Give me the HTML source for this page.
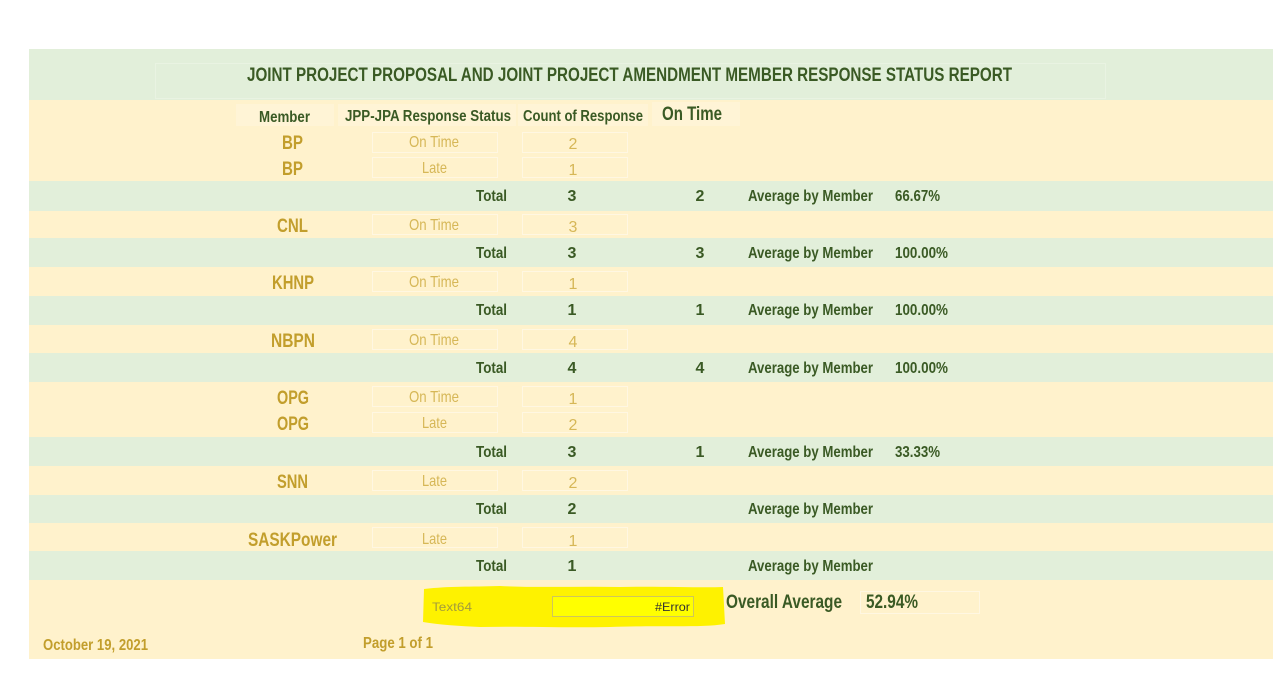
<!DOCTYPE html>
<html>
<head>
<meta charset="utf-8">
<style>
  html,body{margin:0;padding:0;background:#fff;}
  svg{display:block;}
  text{font-family:"Liberation Sans Narrow","Liberation Sans",sans-serif;}
  .t{font-weight:bold;fill:#3a5a24;}
  .m{font-weight:bold;fill:#c29e2c;font-size:19px;}
  .s{fill:#d6b757;font-size:16px;}
</style>
</head>
<body>
<svg width="1273" height="684" viewBox="0 0 1273 684" xmlns="http://www.w3.org/2000/svg">
  <rect x="0" y="0" width="1273" height="684" fill="#ffffff"/>
  <rect x="29" y="49" width="1244" height="610" fill="#FFF2CC"/>
  <g fill="#E2EFDA">
    <rect x="29" y="49" width="1244" height="51"/>
    <rect x="29" y="181" width="1244" height="30"/>
    <rect x="29" y="238" width="1244" height="29"/>
    <rect x="29" y="296" width="1244" height="29"/>
    <rect x="29" y="353" width="1244" height="29"/>
    <rect x="29" y="437" width="1244" height="29"/>
    <rect x="29" y="495" width="1244" height="28"/>
    <rect x="29" y="551" width="1244" height="29"/>
  </g>
  <rect x="155.5" y="63.5" width="950" height="35" fill="none" stroke="#e9f3e2" stroke-width="1"/>
  <text class="t" x="247" y="81" font-size="19" textLength="765" lengthAdjust="spacingAndGlyphs">JOINT PROJECT PROPOSAL AND JOINT PROJECT AMENDMENT MEMBER RESPONSE STATUS REPORT</text>

  <g fill="#fff4d6">
    <rect x="236" y="104" width="98" height="22"/>
    <rect x="338" y="104" width="178" height="22"/>
    <rect x="518" y="104" width="130" height="22"/>
    <rect x="652" y="102" width="88" height="24"/>
  </g>
  <text class="t" x="259" y="122" font-size="16" textLength="51" lengthAdjust="spacingAndGlyphs">Member</text>
  <text class="t" x="345" y="121" font-size="16" textLength="166" lengthAdjust="spacingAndGlyphs">JPP-JPA Response Status</text>
  <text class="t" x="523" y="121" font-size="16" textLength="120" lengthAdjust="spacingAndGlyphs">Count of Response</text>
  <text class="t" x="662" y="120" font-size="19" textLength="60" lengthAdjust="spacingAndGlyphs">On Time</text>

  <g fill="none" stroke="#fff7e2" stroke-width="1">
    <rect x="372.5" y="132.5" width="125" height="20"/>
    <rect x="522.5" y="132.5" width="105" height="20"/>
    <rect x="372.5" y="157.5" width="125" height="20"/>
    <rect x="522.5" y="157.5" width="105" height="20"/>
    <rect x="372.5" y="214.5" width="125" height="20"/>
    <rect x="522.5" y="214.5" width="105" height="20"/>
    <rect x="372.5" y="271.5" width="125" height="20"/>
    <rect x="522.5" y="271.5" width="105" height="20"/>
    <rect x="372.5" y="329.5" width="125" height="20"/>
    <rect x="522.5" y="329.5" width="105" height="20"/>
    <rect x="372.5" y="386.5" width="125" height="20"/>
    <rect x="522.5" y="386.5" width="105" height="20"/>
    <rect x="372.5" y="412.5" width="125" height="20"/>
    <rect x="522.5" y="412.5" width="105" height="20"/>
    <rect x="372.5" y="470.5" width="125" height="20"/>
    <rect x="522.5" y="470.5" width="105" height="20"/>
    <rect x="372.5" y="527.5" width="125" height="20"/>
    <rect x="522.5" y="527.5" width="105" height="20"/>
  </g>

  <text class="m" x="282" y="149" textLength="21" lengthAdjust="spacingAndGlyphs">BP</text>
  <text class="s" x="409" y="147" textLength="50" lengthAdjust="spacingAndGlyphs">On Time</text>
  <text class="s" x="573" y="149" text-anchor="middle">2</text>

  <text class="m" x="282" y="175" textLength="21" lengthAdjust="spacingAndGlyphs">BP</text>
  <text class="s" x="422" y="173" textLength="25" lengthAdjust="spacingAndGlyphs">Late</text>
  <text class="s" x="573" y="175" text-anchor="middle">1</text>

  <text class="m" x="277" y="232" textLength="31" lengthAdjust="spacingAndGlyphs">CNL</text>
  <text class="s" x="409" y="230" textLength="50" lengthAdjust="spacingAndGlyphs">On Time</text>
  <text class="s" x="573" y="232" text-anchor="middle">3</text>

  <text class="m" x="272" y="289" textLength="42" lengthAdjust="spacingAndGlyphs">KHNP</text>
  <text class="s" x="409" y="287" textLength="50" lengthAdjust="spacingAndGlyphs">On Time</text>
  <text class="s" x="573" y="289" text-anchor="middle">1</text>

  <text class="m" x="271" y="347" textLength="44" lengthAdjust="spacingAndGlyphs">NBPN</text>
  <text class="s" x="409" y="345" textLength="50" lengthAdjust="spacingAndGlyphs">On Time</text>
  <text class="s" x="573" y="347" text-anchor="middle">4</text>

  <text class="m" x="277" y="404" textLength="32" lengthAdjust="spacingAndGlyphs">OPG</text>
  <text class="s" x="409" y="402" textLength="50" lengthAdjust="spacingAndGlyphs">On Time</text>
  <text class="s" x="573" y="404" text-anchor="middle">1</text>

  <text class="m" x="277" y="430" textLength="32" lengthAdjust="spacingAndGlyphs">OPG</text>
  <text class="s" x="422" y="428" textLength="25" lengthAdjust="spacingAndGlyphs">Late</text>
  <text class="s" x="573" y="430" text-anchor="middle">2</text>

  <text class="m" x="277" y="488" textLength="31" lengthAdjust="spacingAndGlyphs">SNN</text>
  <text class="s" x="422" y="486" textLength="25" lengthAdjust="spacingAndGlyphs">Late</text>
  <text class="s" x="573" y="488" text-anchor="middle">2</text>

  <text class="m" x="248" y="546" textLength="89" lengthAdjust="spacingAndGlyphs">SASKPower</text>
  <text class="s" x="422" y="544" textLength="25" lengthAdjust="spacingAndGlyphs">Late</text>
  <text class="s" x="573" y="546" text-anchor="middle">1</text>

  <g class="t" font-size="16">
    <text x="476" y="201" textLength="31" lengthAdjust="spacingAndGlyphs">Total</text>
    <text x="572" y="201" text-anchor="middle">3</text>
    <text x="700" y="201" text-anchor="middle">2</text>
    <text x="748" y="201" textLength="125" lengthAdjust="spacingAndGlyphs">Average by Member</text>
    <text x="895" y="201" textLength="45" lengthAdjust="spacingAndGlyphs">66.67%</text>

    <text x="476" y="258" textLength="31" lengthAdjust="spacingAndGlyphs">Total</text>
    <text x="572" y="258" text-anchor="middle">3</text>
    <text x="700" y="258" text-anchor="middle">3</text>
    <text x="748" y="258" textLength="125" lengthAdjust="spacingAndGlyphs">Average by Member</text>
    <text x="895" y="258" textLength="53" lengthAdjust="spacingAndGlyphs">100.00%</text>

    <text x="476" y="315" textLength="31" lengthAdjust="spacingAndGlyphs">Total</text>
    <text x="572" y="315" text-anchor="middle">1</text>
    <text x="700" y="315" text-anchor="middle">1</text>
    <text x="748" y="315" textLength="125" lengthAdjust="spacingAndGlyphs">Average by Member</text>
    <text x="895" y="315" textLength="53" lengthAdjust="spacingAndGlyphs">100.00%</text>

    <text x="476" y="373" textLength="31" lengthAdjust="spacingAndGlyphs">Total</text>
    <text x="572" y="373" text-anchor="middle">4</text>
    <text x="700" y="373" text-anchor="middle">4</text>
    <text x="748" y="373" textLength="125" lengthAdjust="spacingAndGlyphs">Average by Member</text>
    <text x="895" y="373" textLength="53" lengthAdjust="spacingAndGlyphs">100.00%</text>

    <text x="476" y="457" textLength="31" lengthAdjust="spacingAndGlyphs">Total</text>
    <text x="572" y="457" text-anchor="middle">3</text>
    <text x="700" y="457" text-anchor="middle">1</text>
    <text x="748" y="457" textLength="125" lengthAdjust="spacingAndGlyphs">Average by Member</text>
    <text x="895" y="457" textLength="45" lengthAdjust="spacingAndGlyphs">33.33%</text>

    <text x="476" y="514" textLength="31" lengthAdjust="spacingAndGlyphs">Total</text>
    <text x="572" y="514" text-anchor="middle">2</text>
    <text x="748" y="514" textLength="125" lengthAdjust="spacingAndGlyphs">Average by Member</text>

    <text x="476" y="571" textLength="31" lengthAdjust="spacingAndGlyphs">Total</text>
    <text x="572" y="571" text-anchor="middle">1</text>
    <text x="748" y="571" textLength="125" lengthAdjust="spacingAndGlyphs">Average by Member</text>
  </g>

  <path d="M424,589 C450,586 470,587 500,586 C540,588 580,586 620,587 C660,586 700,588 723,587 L725,624 C700,628 660,625 610,627 C560,628 520,626 480,627 C460,626 440,625 423,622 Z" fill="#fef200"/>
  <rect x="552.5" y="596.5" width="141" height="20" fill="#ffff00" stroke="#cfc65a" stroke-width="1"/>
  <text x="432" y="611" font-size="12" fill="#a39b3c" style="font-family:'Liberation Sans',sans-serif" textLength="40" lengthAdjust="spacingAndGlyphs">Text64</text>
  <text x="655" y="611" font-size="12" fill="#333333" style="font-family:'Liberation Sans',sans-serif" textLength="35" lengthAdjust="spacingAndGlyphs">#Error</text>
  <rect x="860.5" y="591.5" width="119" height="22" fill="none" stroke="#fff7e2" stroke-width="1"/>
  <text class="t" x="726" y="608" font-size="19" textLength="116" lengthAdjust="spacingAndGlyphs">Overall Average</text>
  <text class="t" x="866" y="608" font-size="19" textLength="52" lengthAdjust="spacingAndGlyphs">52.94%</text>

  <text class="m" x="43" y="650" style="font-size:16px" textLength="105" lengthAdjust="spacingAndGlyphs">October 19, 2021</text>
  <text class="m" x="363" y="648" style="font-size:16px" textLength="70" lengthAdjust="spacingAndGlyphs">Page 1 of 1</text>
</svg>
</body>
</html>
